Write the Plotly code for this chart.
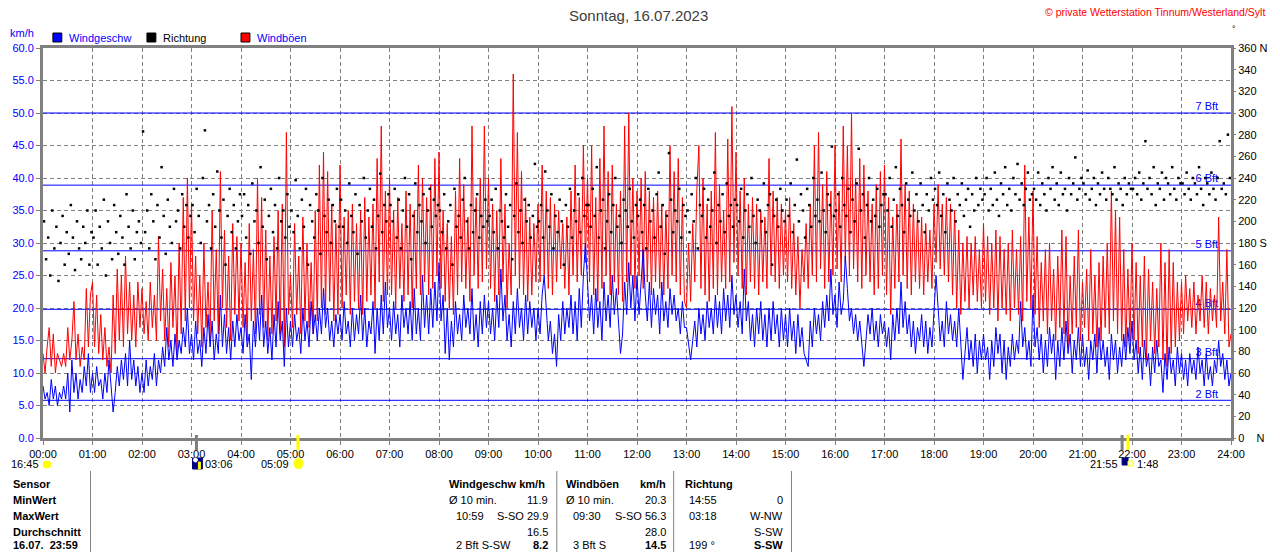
import numpy as np
import plotly.graph_objects as go

# Windboeen km/h, 2,5-Minuten-Raster, eine Zeile je Stunde (00:00 .. 23:57), letzter Wert 24:00
windboeen = [
	13, 10, 14, 17, 11, 16, 10, 13, 12, 11, 13, 11, 17, 12, 15, 21, 12, 16, 11, 14, 12, 23, 14, 22,
	24, 14, 22, 13, 19, 12, 17, 11, 14, 10, 22, 13, 26, 15, 25, 14, 28, 16, 24, 15, 22, 14, 24, 17,
	23, 16, 21, 15, 24, 17, 22, 15, 31, 18, 26, 15, 23, 14, 27, 17, 25, 13, 30, 16, 37, 18, 40, 20,
	36, 18, 28, 16, 25, 14, 30, 17, 24, 15, 35, 18, 29, 16, 41, 20, 32, 17, 28, 15, 33, 19, 31, 18,
	30, 17, 27, 15, 33, 18, 29, 16, 40, 19, 37, 17, 32, 15, 28, 16, 31, 18, 35, 16, 36, 14, 47, 19,
	25, 17, 33, 19, 28, 16, 34, 18, 30, 17, 27, 16, 35, 18, 42, 20, 44, 19, 41, 21, 36, 18, 33, 19,
	42, 20, 34, 22, 35, 19, 36, 21, 33, 20, 35, 19, 37, 21, 34, 22, 36, 20, 43, 24, 48, 21, 38, 22,
	40, 22, 35, 20, 37, 23, 33, 21, 38, 22, 36, 20, 35, 23, 42, 22, 40, 24, 37, 22, 39, 23, 43, 25,
	44, 23, 35, 21, 33, 20, 31, 19, 38, 22, 43, 24, 39, 23, 34, 21, 48, 25, 37, 23, 40, 24, 48, 26,
	40, 23, 36, 21, 35, 22, 43, 24, 36, 20, 30, 22, 56, 25, 47, 23, 41, 22, 37, 21, 34, 22, 33, 24,
	36, 24, 42, 25, 38, 23, 37, 22, 36, 24, 35, 26, 33, 23, 34, 22, 38, 25, 42, 24, 37, 25, 45, 27,
	40, 24, 45, 22, 37, 21, 43, 23, 48, 25, 41, 22, 42, 24, 36, 22, 38, 21, 48, 24, 50, 25, 40, 23,
	38, 25, 40, 23, 41, 24, 38, 22, 37, 24, 38, 23, 36, 22, 35, 23, 45, 25, 41, 24, 43, 22, 37, 21,
	20, 30, 21, 33, 24, 38, 45, 23, 40, 22, 36, 21, 38, 23, 47, 22, 39, 24, 35, 23, 46, 24, 51, 27,
	44, 25, 38, 23, 40, 22, 36, 24, 37, 23, 36, 22, 35, 24, 34, 23, 43, 25, 38, 24, 37, 23, 36, 25,
	35, 24, 37, 23, 33, 22, 31, 20, 29, 24, 33, 23, 36, 25, 45, 24, 47, 26, 39, 23, 41, 24, 38, 25,
	45, 26, 38, 24, 48, 27, 45, 25, 50, 26, 40, 24, 43, 23, 42, 25, 38, 24, 36, 22, 39, 23, 41, 25,
	42, 22, 37, 19, 34, 23, 36, 24, 46, 25, 39, 23, 38, 22, 36, 24, 35, 23, 34, 22, 33, 24, 32, 23,
	36, 27, 39, 26, 36, 25, 37, 24, 36, 22, 35, 20, 32, 19, 30, 21, 31, 20, 30, 22, 31, 21, 29, 20,
	33, 21, 31, 19, 30, 20, 32, 18, 31, 20, 29, 19, 30, 18, 32, 20, 29, 19, 31, 18, 42, 21, 34, 20,
	38, 19, 31, 17, 27, 18, 29, 16, 30, 18, 26, 15, 28, 17, 32, 16, 31, 14, 25, 16, 28, 17, 32, 15,
	24, 17, 26, 15, 29, 16, 25, 14, 27, 15, 28, 17, 30, 16, 38, 18, 35, 16, 34, 15, 29, 14, 26, 15,
	30, 15, 27, 13, 25, 14, 28, 12, 26, 15, 24, 13, 23, 14, 30, 12, 27, 11, 29, 13, 27, 14, 24, 15,
	24, 16, 25, 18, 23, 17, 24, 16, 22, 18, 25, 17, 24, 16, 23, 18, 22, 17, 34, 18, 24, 16, 29, 14,
	16,
]

# Windgeschwindigkeit km/h, gleiches Raster
windgeschw = [
	8, 6, 7, 5, 9, 6, 8, 5, 7, 6, 8, 6, 10, 4, 12, 7, 10, 6, 9, 7, 11, 8, 13, 7,
	10, 7, 11, 8, 9, 6, 10, 7, 12, 8, 4, 7, 11, 8, 12, 9, 13, 8, 15, 9, 12, 8, 11, 7,
	10, 7, 12, 8, 11, 9, 13, 8, 12, 10, 14, 11, 17, 12, 15, 11, 16, 12, 15, 13, 17, 14, 20, 13,
	16, 12, 18, 13, 15, 11, 17, 13, 19, 14, 18, 12, 16, 13, 22, 14, 19, 13, 17, 12, 18, 14, 19, 15,
	17, 13, 19, 14, 16, 9, 18, 14, 20, 15, 22, 14, 18, 13, 17, 12, 19, 14, 21, 15, 18, 11, 20, 14,
	18, 14, 19, 15, 17, 13, 20, 15, 18, 14, 21, 16, 19, 15, 20, 16, 23, 17, 20, 15, 18, 14, 19, 16,
	19, 15, 21, 16, 18, 14, 20, 15, 19, 16, 22, 15, 20, 14, 18, 16, 21, 13, 20, 15, 22, 16, 24, 17,
	20, 15, 21, 16, 19, 14, 22, 17, 20, 16, 21, 15, 23, 16, 20, 15, 25, 17, 22, 16, 23, 17, 24, 18,
	27, 18, 22, 13, 20, 12, 18, 14, 21, 16, 19, 15, 22, 17, 20, 16, 23, 15, 19, 14, 21, 16, 22, 17,
	21, 16, 20, 15, 22, 17, 26, 18, 22, 15, 19, 14, 21, 16, 23, 17, 20, 15, 22, 16, 21, 17, 20, 15,
	20, 16, 22, 25, 19, 15, 18, 13, 16, 11, 19, 15, 21, 16, 20, 17, 22, 16, 21, 15, 23, 17, 25, 30,
	24, 18, 22, 16, 23, 17, 21, 15, 24, 18, 22, 17, 25, 19, 23, 17, 13, 16, 24, 19, 27, 20, 25, 18,
	25, 19, 24, 29, 22, 18, 24, 17, 23, 19, 22, 16, 24, 18, 21, 17, 23, 19, 22, 18, 20, 16, 21, 17,
	17, 14, 12, 15, 18, 14, 20, 16, 19, 15, 21, 17, 20, 16, 22, 17, 21, 16, 23, 18, 22, 17, 25, 19,
	22, 17, 21, 16, 26, 18, 21, 15, 19, 14, 20, 16, 21, 15, 19, 14, 20, 15, 21, 16, 19, 14, 20, 15,
	19, 14, 20, 15, 18, 13, 19, 14, 17, 13, 12, 11, 18, 14, 20, 16, 19, 15, 21, 17, 22, 18, 26, 19,
	22, 17, 24, 19, 21, 28, 23, 18, 20, 16, 19, 15, 18, 14, 11, 15, 19, 16, 20, 15, 18, 14, 19, 16,
	18, 14, 17, 12, 19, 15, 20, 16, 24, 17, 21, 16, 19, 14, 18, 13, 17, 15, 19, 14, 18, 13, 17, 14,
	19, 25, 20, 15, 18, 14, 21, 16, 19, 15, 18, 14, 20, 15, 9, 13, 17, 12, 15, 11, 16, 10, 15, 12,
	16, 12, 14, 9, 15, 11, 17, 13, 16, 10, 15, 9, 14, 11, 16, 12, 15, 13, 21, 14, 17, 12, 15, 11,
	22, 14, 17, 12, 16, 10, 15, 11, 17, 13, 16, 9, 15, 11, 17, 12, 18, 13, 16, 10, 15, 12, 17, 11,
	16, 11, 14, 9, 15, 12, 16, 10, 17, 12, 15, 11, 14, 9, 16, 12, 15, 10, 14, 11, 16, 12, 17, 13,
	18, 12, 15, 10, 14, 9, 15, 11, 13, 8, 14, 10, 15, 11, 12, 7, 13, 9, 14, 10, 12, 8, 14, 10,
	13, 9, 12, 8, 13, 10, 12, 9, 14, 10, 12, 8, 13, 9, 11, 8, 12, 10, 15, 11, 13, 9, 12, 8,
	10,
]

# Windrichtung in Grad, ebenfalls 2,5-Minuten-Raster
richtung = [
	200, 165, 185, 150, 210, 175, 195, 145, 180, 205, 160, 190, 170, 215, 185, 155, 200, 175, 165, 195, 180, 210, 160, 190,
	185, 210, 160, 195, 175, 220, 150, 200, 180, 165, 215, 190, 170, 205, 185, 160, 225, 195, 175, 210, 165, 190, 200, 180,
	283, 190, 210, 175, 225, 200, 165, 215, 185, 250, 205, 170, 220, 195, 180, 230, 200, 210, 175, 225, 195, 215, 185, 205,
	215, 190, 230, 205, 180, 240, 284, 200, 215, 175, 225, 195, 246, 210, 185, 220, 160, 205, 230, 190, 215, 175, 200, 225,
	205, 225, 185, 215, 170, 235, 200, 210, 180, 250, 195, 220, 165, 205, 230, 190, 215, 175, 240, 200, 210, 185, 225, 195,
	210, 190, 238, 205, 175, 220, 195, 230, 160, 215, 200, 185, 225, 210, 170, 240, 205, 190, 220, 180, 215, 200, 230, 195,
	220, 195, 210, 180, 235, 205, 190, 225, 170, 215, 200, 240, 185, 210, 230, 195, 220, 175, 205, 244, 190, 215, 200, 225,
	215, 200, 230, 185, 220, 175, 210, 240, 195, 225, 165, 205, 235, 190, 215, 200, 225, 180, 210, 230, 195, 220, 205, 215,
	210, 190, 225, 175, 200, 215, 160, 230, 195, 205, 185, 220, 240, 200, 175, 215, 190, 210, 225, 185, 205, 195, 220, 200,
	205, 220, 190, 230, 175, 210, 200, 185, 225, 195, 215, 165, 205, 235, 190, 210, 180, 220, 200, 215, 185, 205, 253, 195,
	200, 215, 185, 246, 210, 195, 225, 175, 205, 190, 220, 200, 160, 215, 195, 230, 185, 210, 200, 225, 190, 240, 205, 215,
	215, 195, 230, 205, 250, 185, 210, 220, 175, 200, 225, 190, 215, 240, 195, 205, 180, 220, 210, 195, 230, 200, 185, 215,
	205, 220, 190, 215, 175, 230, 200, 210, 185, 225, 245, 195, 215, 170, 205, 263, 220, 190, 210, 200, 230, 185, 215, 205,
	210, 190, 225, 200, 240, 175, 215, 205, 230, 185, 220, 195, 210, 245, 180, 215, 200, 225, 190, 235, 205, 215, 195, 220,
	215, 200, 230, 185, 210, 225, 195, 240, 205, 180, 220, 210, 200, 235, 190, 215, 225, 160, 205, 220, 195, 230, 210, 200,
	220, 205, 235, 190, 215, 257, 200, 225, 210, 185, 230, 215, 195, 240, 205, 220, 200, 245, 210, 190, 225, 215, 269, 205,
	210, 225, 195, 240, 215, 205, 230, 190, 220, 200, 235, 267, 210, 225, 185, 215, 240, 200, 220, 205, 230, 195, 215, 225,
	225, 210, 240, 195, 220, 250, 205, 230, 215, 190, 235, 220, 205, 245, 210, 225, 200, 235, 215, 190, 225, 210, 240, 220,
	230, 215, 245, 205, 225, 190, 235, 220, 210, 240, 200, 225, 215, 235, 205, 220, 230, 195, 225, 210, 240, 215, 230, 220,
	225, 240, 210, 230, 215, 245, 220, 205, 235, 225, 250, 215, 230, 210, 240, 225, 253, 220, 235, 215, 230, 245, 220, 225,
	230, 220, 245, 215, 235, 225, 210, 240, 230, 250, 220, 235, 215, 245, 225, 230, 210, 240, 225, 235, 259, 220, 230, 240,
	235, 225, 247, 220, 230, 240, 215, 235, 225, 245, 230, 220, 240, 230, 225, 250, 220, 235, 230, 215, 240, 225, 235, 230,
	230, 240, 225, 245, 220, 235, 274, 230, 240, 225, 250, 215, 235, 230, 245, 220, 240, 235, 225, 250, 230, 220, 240, 235,
	235, 225, 245, 230, 220, 240, 235, 225, 250, 230, 215, 240, 235, 225, 245, 230, 220, 240, 274, 230, 235, 225, 280, 240,
]

# Beaufort-Grenzen in km/h
bft_grenzen = [5.8, 12.2, 19.8, 28.8, 38.9, 50.0]
bft_namen = ["2 Bft", "3 Bft", "4 Bft", "5 Bft", "6 Bft", "7 Bft"]

stunden_labels = ["%02d:00" % h for h in range(25)]
richtung_ticks = list(range(0, 361, 20))
richtung_labels = [str(v) for v in richtung_ticks]
richtung_labels[0] = "0\u00a0\u00a0\u00a0\u00a0N"
richtung_labels[9] = "180 S"
richtung_labels[18] = "360 N"

# Mond/Sonne: Mondaufgang, Sonnenaufgang, Monduntergang, Sonnenuntergang
ereignis_zeit = [3.1, 5.15, 21.8, 21.917]
ereignis_farbe = ["#808080", "#FFFF00", "#808080", "#FFFF00"]

# Tabelle unten: (x px, Ausrichtung, Zeile, Text)
tabelle = [
	(8, "left", 0, "<b>Sensor</b>"), (8, "left", 1, "<b>MinWert</b>"), (8, "left", 2, "<b>MaxWert</b>"),
	(8, "left", 3, "<b>Durchschnitt</b>"), (8, "left", 4, "<b>16.07.  23:59</b>"),
	(448, "left", 0, "<b>Windgeschw km/h</b>"),
	(448, "left", 1, "Ø 10 min."), (552, "right", 1, "11.9"),
	(455, "left", 2, "10:59"), (552, "right", 2, "S-SO 29.9"),
	(552, "right", 3, "16.5"),
	(455, "left", 4, "2 Bft S-SW"), (552, "right", 4, "<b>8.2</b>"),
	(566, "left", 0, "<b>Windböen</b>"), (671, "right", 0, "<b>km/h</b>"),
	(566, "left", 1, "Ø 10 min."), (671, "right", 1, "20.3"),
	(573, "left", 2, "09:30"), (671, "right", 2, "S-SO 56.3"),
	(671, "right", 3, "28.0"),
	(573, "left", 4, "3 Bft S"), (671, "right", 4, "<b>14.5</b>"),
	(686, "left", 0, "<b>Richtung</b>"),
	(690, "left", 1, "14:55"), (789, "right", 1, "0"),
	(690, "left", 2, "03:18"), (789, "right", 2, "W-NW"),
	(789, "right", 3, "S-SW"),
	(690, "left", 4, "199 °"), (789, "right", 4, "<b>S-SW</b>"),
]

FONT = "Liberation Sans, Arial, sans-serif"
GRAU = "#808080"


def px_x(px):
	"""Pixel -> paper (x)"""
	return (px - 40) / 1200.0


def px_y(py):
	"""Pixel -> paper (y)"""
	return (438 - py) / 390.0


def text(fig, x, y, s, color="black", size=11, anchor="left"):
	fig.add_annotation(x=px_x(x), y=px_y(y), xref="paper", yref="paper", text=s,
		showarrow=False, xanchor=anchor, yanchor="middle",
		font=dict(family=FONT, size=size, color=color))


def rect(fig, x0, y0, x1, y1, fill, line="black", kind="rect"):
	fig.add_shape(type=kind, xref="paper", yref="paper", x0=px_x(x0), x1=px_x(x1),
		y0=px_y(y0), y1=px_y(y1), fillcolor=fill, line=dict(color=line, width=1))


def main():
	t_wind = np.arange(len(windboeen)) * 2.5 / 60.0
	t_richtung = (np.arange(len(richtung)) * 2.5 + 1.25) / 60.0

	fig = go.Figure()

	# Bft-Beschriftungen liegen unter den Daten
	fig.add_trace(go.Scatter(x=[23.74] * len(bft_grenzen), y=bft_grenzen, text=bft_namen,
		mode="text", textposition="top left", hoverinfo="skip",
		textfont=dict(family=FONT, size=11, color="#0000FF")))

	fig.add_trace(go.Scatter(x=t_wind, y=windboeen, mode="lines",
		line=dict(color="#FF0000", width=1), name="Windböen"))
	fig.add_trace(go.Scatter(x=t_wind, y=windgeschw, mode="lines",
		line=dict(color="#0000FF", width=1), name="Windgeschw"))
	fig.add_trace(go.Scatter(x=t_richtung, y=richtung, yaxis="y2", mode="markers",
		marker=dict(symbol="square", size=2.5, color="black", line=dict(width=0)),
		name="Richtung"))

	# Beaufort-Linien
	for g in bft_grenzen:
		fig.add_shape(type="line", xref="x", yref="y", x0=0, x1=24, y0=g, y1=g,
			layer="between", line=dict(color="#0000FF", width=1))

	# Mond / Sonne Markierungen an der Zeitachse
	for t, c in zip(ereignis_zeit, ereignis_farbe):
		fig.add_shape(type="line", xref="x", yref="paper", x0=t, x1=t,
			y0=px_y(450), y1=px_y(435), line=dict(color=c, width=3))

	fig.update_layout(
		width=1280, height=552,
		margin=dict(l=40, r=40, t=48, b=114),
		paper_bgcolor="white", plot_bgcolor="white",
		showlegend=False,
		font=dict(family=FONT, size=11, color="black"),
		xaxis=dict(range=[0, 24], tickvals=list(range(25)), ticktext=stunden_labels,
			showgrid=True, gridcolor=GRAU, griddash="4px,3px", gridwidth=1,
			showline=True, linecolor=GRAU, linewidth=3, mirror=True,
			ticks="outside", ticklen=4, tickcolor=GRAU, zeroline=False,
			tickfont=dict(size=11, color="black")),
		yaxis=dict(range=[0, 60], dtick=5, tickformat=".1f",
			showgrid=True, gridcolor=GRAU, griddash="4px,3px", gridwidth=1,
			showline=True, linecolor=GRAU, linewidth=3, mirror=True,
			ticks="outside", ticklen=4, tickcolor=GRAU, zeroline=False,
			tickfont=dict(size=11, color="#0000FF")),
		yaxis2=dict(range=[0, 360], overlaying="y", side="right",
			tickvals=richtung_ticks, ticktext=richtung_labels,
			showgrid=False, zeroline=False, ticks="outside", ticklen=4, tickcolor=GRAU,
			tickfont=dict(size=11, color="black")),
	)

	# Kopfzeile
	text(fig, 642, 15, "Sonntag, 16.07.2023", color="#404040", size=15, anchor="center")
	text(fig, 1276, 12, "© private Wetterstation Tinnum/Westerland/Sylt", color="#FF0000", size=10.5, anchor="right")
	text(fig, 1243, 29, "°", size=9, anchor="center")
	text(fig, 5, 33, "km/h", color="#0000FF")

	# Legende
	rect(fig, 50, 33, 59, 42, "#0000FF")
	text(fig, 64, 38, "Windgeschw", color="#0000FF")
	rect(fig, 145, 33, 154, 42, "black")
	text(fig, 159, 38, "Richtung")
	rect(fig, 240, 33, 249, 42, "#FF0000")
	text(fig, 254, 38, "Windböen", color="#0000FF")

	# Zeiten Sonne / Mond unter der Achse
	text(fig, 38, 464, "16:45", anchor="right")
	rect(fig, 40, 461, 48, 468, "#FFFF00", line="#FFFF00", kind="circle")
	rect(fig, 191, 458, 201, 469, "#000080", line="#000080")
	rect(fig, 192, 458, 196, 462, "white", line="white", kind="circle")
	rect(fig, 197, 462, 199, 469, "#FFFF00", line="#FFFF00")
	text(fig, 202, 464, "03:06")
	text(fig, 290, 464, "05:09", anchor="right")
	rect(fig, 293, 458, 303, 469, "#FFFF00", line="#FFFF80", kind="circle")
	text(fig, 1128, 464, "21:55", anchor="right")
	rect(fig, 1130, 458, 1136, 465, "#000080", line="#000080")
	rect(fig, 1136, 461, 1141, 466, "white", line="#FFFF00")
	text(fig, 1143, 464, "1:48")

	# Tabelle
	for xs in [88, 559, 677, 796]:
		fig.add_shape(type="line", xref="paper", yref="paper", x0=px_x(xs), x1=px_x(xs),
			y0=px_y(471), y1=px_y(556), line=dict(color=GRAU, width=1))
	zeilen_y = [484, 500, 516, 532, 545]
	for x, anchor, zeile, s in tabelle:
		text(fig, x, zeilen_y[zeile], s, anchor=anchor)

	fig.write_html("out.html", config={"displayModeBar": False},
		post_script="document.body.style.margin='0px';")


if __name__ == '__main__':
	main()
